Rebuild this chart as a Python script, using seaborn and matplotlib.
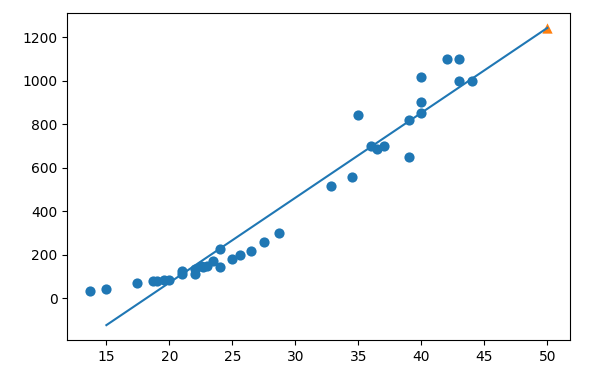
import matplotlib
matplotlib.use("Agg")
import matplotlib.pyplot as plt
import seaborn as sns

# training points (length vs weight)
length = [13.7, 15.0, 17.4, 18.7, 19.0, 19.6, 20.0, 21.0, 21.0, 22.0, 22.0,
          22.5, 22.7, 23.0, 23.5, 24.0, 24.0, 25.0, 25.6, 26.5, 27.5, 28.7,
          32.8, 34.5, 35.0, 36.0, 36.5, 37.0, 39.0, 39.0, 40.0, 40.0, 40.0,
          42.0, 43.0, 43.0, 44.0]
weight = [32, 40, 70, 78, 80, 85, 85, 110, 125, 135, 110,
          150, 145, 150, 170, 145, 225, 180, 197, 218, 260, 300,
          514, 556, 840, 700, 685, 700, 820, 650, 900, 850, 1015,
          1100, 1100, 1000, 1000]

# fitted line end points and the predicted point
line_x = [15, 50]
line_y = [-124, 1242]
pred_x = [50]
pred_y = [1241.8]

fig, ax = plt.subplots(figsize=(5.94, 3.72), dpi=100)
fig.subplots_adjust(left=0.113, right=0.96, top=0.965, bottom=0.086)

sns.scatterplot(x=length, y=weight, ax=ax, color="#1f77b4", s=54, linewidth=0)
sns.lineplot(x=line_x, y=line_y, ax=ax, color="#1f77b4", linewidth=1.5)
sns.scatterplot(x=pred_x, y=pred_y, ax=ax, color="#ff7f0e", marker="^", s=55, linewidth=0)

ax.set_xticks([15, 20, 25, 30, 35, 40, 45, 50])
ax.set_yticks([0, 200, 400, 600, 800, 1000, 1200])

plt.savefig("out.png", dpi=100)
